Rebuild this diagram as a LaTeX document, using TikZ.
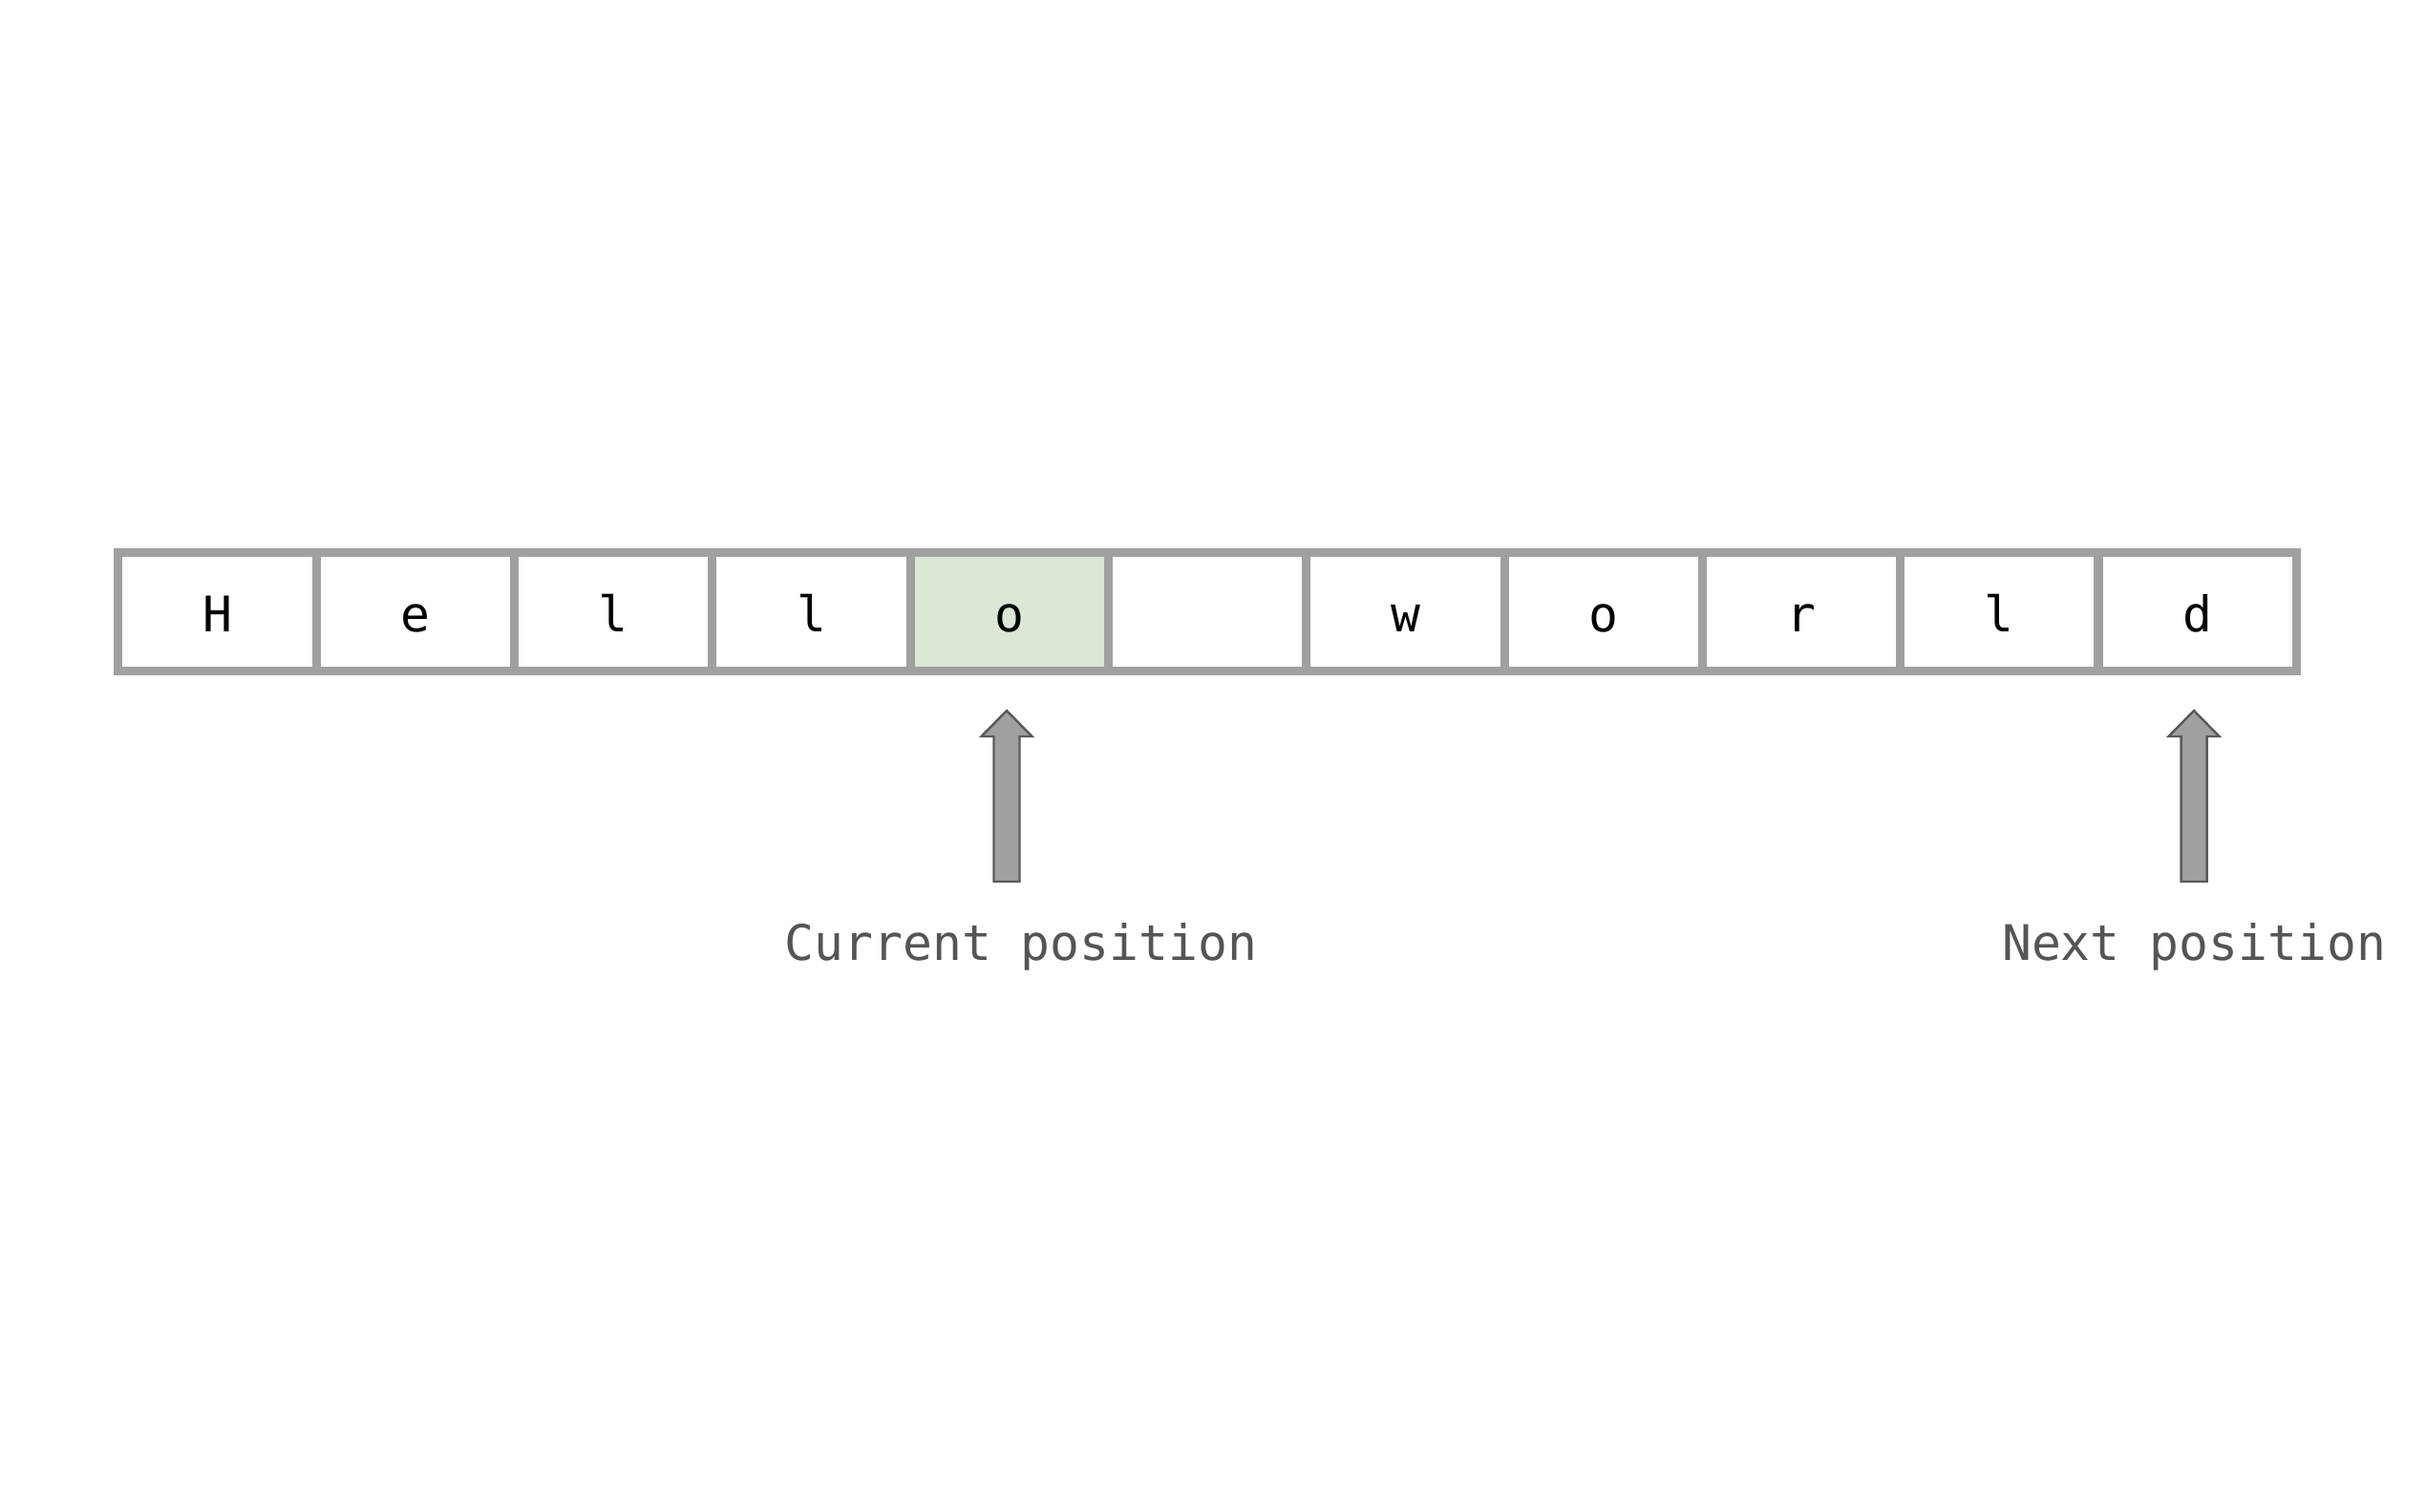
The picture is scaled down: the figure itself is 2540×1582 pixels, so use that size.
\documentclass[tikz,border=0pt]{standalone}
\usepackage{fontspec}
\setmonofont{DejaVu Sans Mono}
\usepackage{tikz}
\usetikzlibrary{calc}
\definecolor{cellgray}{HTML}{A0A0A0}
\definecolor{curgreen}{HTML}{DAE8D5}
\definecolor{arrowline}{HTML}{5A5A5A}
\definecolor{labgray}{HTML}{555555}
\tikzset{cell/.style={rectangle, draw=cellgray, line width=2.56pt, inner sep=0pt,
    minimum width=2.073cm, minimum height=1.24cm, text height=1.32em, text depth=0.11em,
    font=\ttfamily\fontsize{14.6}{17}\selectfont}}
\tikzset{blockarrow/.style={draw=arrowline, fill=cellgray, line width=0.7pt, line join=miter}}
\tikzset{poslabel/.style={anchor=base, inner sep=0pt, text=labgray, font=\ttfamily\fontsize{14.6}{17}\selectfont}}

\begin{document}
\begin{tikzpicture}[x=0.01cm,y=-0.01cm]
  \useasboundingbox (0,0) rectangle (2540,1582);
  \foreach \ch [count=\i from 0] in {H,e,l,l,o,{},w,o,r,l,d} {
    \node[cell] (c\i) at ({124+207.3*(\i+0.5)}, 640.5) {\ch};
  }
  % current cell
  \node[cell, fill=curgreen] (c4) at ({124+207.3*4.5}, 640.5) {o};
  \foreach \tx/\nm/\lab/\lx in {
    1054/cur/Current position/1069,
    2297/nxt/Next position/2297%
  } {
    \coordinate (\nm tip) at (\tx, 744);
    \draw[blockarrow] (\nm tip) -- ++(26.5,27) -- ++(-13,0) -- ++(0,152)
      -- ++(-27,0) -- ++(0,-152) -- ++(-13,0) -- cycle;
    \node[poslabel] (\nm lab) at (\lx, 1005) {\lab};
  }
\end{tikzpicture}
\end{document}
